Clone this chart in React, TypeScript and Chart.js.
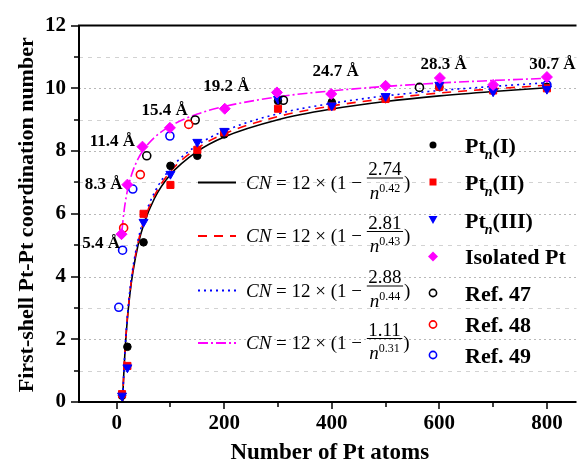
import React, { useEffect, useRef } from 'react';
import { Chart, registerables } from 'chart.js';
Chart.register(...registerables);

const SERIF = "'Liberation Serif', 'Times New Roman', serif";

// ---- fitted curves (values of the fits shown in the legend) ----
const fitN = [11, 12, 13, 14, 16, 18, 20, 25, 30, 40, 50, 70, 100, 150, 200, 300, 400, 500, 600, 700, 800];
const fit1 = [0, 0.42, 0.8, 1.15, 1.74, 2.23, 2.66, 3.49, 4.12, 5.02, 5.64, 6.48, 7.25, 7.99, 8.45, 9.0, 9.34, 9.58, 9.76, 9.9, 10.02];
const fit2 = [0, 0.42, 0.81, 1.16, 1.76, 2.27, 2.7, 3.55, 4.19, 5.1, 5.73, 6.57, 7.35, 8.09, 8.55, 9.1, 9.44, 9.67, 9.85, 9.98, 10.1];
const fit3 = [0, 0.42, 0.82, 1.18, 1.8, 2.31, 2.75, 3.62, 4.26, 5.18, 5.82, 6.67, 7.44, 8.19, 8.64, 9.19, 9.52, 9.76, 9.93, 10.06, 10.18];
const fitIsoN = [10, 12, 14, 16, 20, 25, 30, 40, 50, 70, 100, 150, 200, 300, 400, 500, 600, 700, 800];
const fitIso = [5.48, 5.83, 6.12, 6.36, 6.74, 7.09, 7.36, 7.76, 8.04, 8.43, 8.8, 9.18, 9.42, 9.73, 9.92, 10.06, 10.17, 10.25, 10.32];
const fitCoef = ['2.74', '2.81', '2.88', '1.11'];
const fitExp = ['0.42', '0.43', '0.44', '0.31'];

// ---- measured points ----
const ptN = [10, 20, 50, 100, 150, 200, 300, 400, 500, 600, 700, 800];
const ptI = [0.2, 1.76, 5.09, 7.53, 7.85, 8.53, 9.6, 9.56, 9.66, 10.04, 9.95, 10.05];
const ptII = [0.25, 1.15, 6.0, 6.92, 8.04, 8.6, 9.35, 9.42, 9.66, 10.05, 9.93, 10.0];
const ptIII = [0.2, 1.1, 5.74, 7.27, 8.29, 8.64, 9.66, 9.45, 9.75, 10.11, 9.9, 9.98];
const isoN = [9, 20, 48, 99, 201, 298, 399, 500, 601, 700, 800];
const isoCN = [5.35, 6.93, 8.14, 8.74, 9.35, 9.87, 9.82, 10.08, 10.33, 10.11, 10.36];
const ref47N = [56, 146, 310, 563];
const ref47CN = [7.85, 8.99, 9.62, 10.03];
const ref48N = [13, 44, 134];
const ref48CN = [5.55, 7.25, 8.85];
const ref49N = [4, 11, 30, 99, 800];
const ref49CN = [3.02, 4.84, 6.79, 8.48, 10.11];

// ---- size annotations ----
const sizeLabels = ['5.4 Å', '8.3 Å', '11.4 Å', '15.4 Å', '19.2 Å', '24.7 Å', '28.3 Å', '30.7 Å'];
const sizeLabelN = [-29, -24, -8, 89, 204, 407, 608, 810];
const sizeLabelCN = [5.04, 6.92, 8.29, 9.3, 10.06, 10.54, 10.75, 10.77];

// ---- axes ----
const xTicks = [0, 100, 200, 300, 400, 500, 600, 700, 800];
const yTicks = [0, 1, 2, 3, 4, 5, 6, 7, 8, 9, 10, 11, 12];
const xTitle = 'Number of Pt atoms';
const yTitle = 'First-shell Pt-Pt coordination number';

const pts = (xs: number[], ys: number[]) => xs.map((x, i) => ({ x, y: ys[i] }));

function drawMarker(ctx: CanvasRenderingContext2D, kind: string, color: string, x: number, y: number) {
  ctx.save();
  ctx.fillStyle = color;
  ctx.strokeStyle = color;
  ctx.setLineDash([]);
  ctx.beginPath();
  if (kind === 'circle') {
    ctx.arc(x, y, 3.5, 0, Math.PI * 2);
    ctx.fill();
  } else if (kind === 'square') {
    ctx.fillRect(x - 3.5, y - 3.5, 7, 7);
  } else if (kind === 'tri') {
    ctx.moveTo(x - 4.5, y - 4);
    ctx.lineTo(x + 4.5, y - 4);
    ctx.lineTo(x, y + 4);
    ctx.closePath();
    ctx.fill();
  } else if (kind === 'diamond') {
    ctx.moveTo(x, y - 5);
    ctx.lineTo(x + 5, y);
    ctx.lineTo(x, y + 5);
    ctx.lineTo(x - 5, y);
    ctx.closePath();
    ctx.fill();
  } else {
    ctx.lineWidth = 1.6;
    ctx.arc(x, y, 3.6, 0, Math.PI * 2);
    ctx.stroke();
  }
  ctx.restore();
}

function drawFormula(ctx: CanvasRenderingContext2D, x0: number, yc: number, coef: string, exp: string) {
  let x = x0;
  const base = yc + 6;
  ctx.textAlign = 'left';
  ctx.textBaseline = 'alphabetic';
  ctx.fillStyle = '#000';
  ctx.font = `italic 19px ${SERIF}`;
  ctx.fillText('CN', x, base);
  x += ctx.measureText('CN').width;
  ctx.font = `19px ${SERIF}`;
  const s = ' = 12 × (1 − ';
  ctx.fillText(s, x, base);
  x += ctx.measureText(s).width;
  const numW = ctx.measureText(coef).width;
  ctx.font = `italic 19px ${SERIF}`;
  const nW = ctx.measureText('n').width;
  ctx.font = `12px ${SERIF}`;
  const eW = ctx.measureText(exp).width;
  const denW = nW + eW;
  const w = Math.max(numW, denW) + 3;
  const barY = yc - 4.5;
  ctx.strokeStyle = '#000';
  ctx.lineWidth = 1;
  ctx.setLineDash([]);
  ctx.beginPath();
  ctx.moveTo(x, barY);
  ctx.lineTo(x + w, barY);
  ctx.stroke();
  ctx.font = `19px ${SERIF}`;
  ctx.fillText(coef, x + (w - numW) / 2, barY - 3);
  const dx = x + (w - denW) / 2;
  ctx.font = `italic 19px ${SERIF}`;
  ctx.fillText('n', dx, yc + 16);
  ctx.font = `12px ${SERIF}`;
  ctx.fillText(exp, dx + nW, yc + 9);
  x += w + 1;
  ctx.font = `19px ${SERIF}`;
  ctx.fillText(')', x, base);
}

const decor = {
  id: 'decor',
  beforeDatasetsDraw(chart: any) {
    const { ctx, chartArea: ca, scales } = chart;
    const ys = scales.y;
    ctx.save();
    ctx.lineWidth = 1;
    yTicks.forEach((v) => {
      if (v === 0 || v === 12) return;
      const py = Math.round(ys.getPixelForValue(v)) + 0.5;
      ctx.strokeStyle = v % 2 === 0 ? '#b8b8b8' : '#d2d2d2';
      ctx.setLineDash(v % 2 === 0 ? [2, 3] : [4, 5]);
      ctx.beginPath();
      ctx.moveTo(ca.left, py);
      ctx.lineTo(ca.right, py);
      ctx.stroke();
    });
    ctx.restore();
  },
  afterDraw(chart: any) {
    const { ctx, chartArea: ca, scales } = chart;
    const xs = scales.x;
    const ys = scales.y;
    ctx.save();
    ctx.setLineDash([]);
    ctx.strokeStyle = '#000';
    ctx.lineWidth = 2;
    ctx.beginPath();
    ctx.moveTo(ca.left, ca.top);
    ctx.lineTo(ca.left, ca.bottom);
    ctx.moveTo(ca.left - 1, ca.bottom);
    ctx.lineTo(ca.right, ca.bottom);
    ctx.moveTo(ca.left - 1, ca.top);
    ctx.lineTo(ca.right, ca.top);
    ctx.stroke();
    ctx.lineWidth = 1.5;
    ctx.beginPath();
    xTicks.forEach((v) => {
      const px = Math.round(xs.getPixelForValue(v));
      const len = v % 200 === 0 ? 7 : 5;
      ctx.moveTo(px, ca.bottom);
      ctx.lineTo(px, ca.bottom + len);
    });
    yTicks.forEach((v) => {
      const py = Math.round(ys.getPixelForValue(v));
      const len = v % 2 === 0 ? 8 : 5;
      ctx.moveTo(ca.left, py);
      ctx.lineTo(ca.left - len, py);
    });
    ctx.stroke();

    // axis titles
    ctx.fillStyle = '#000';
    ctx.font = `bold 23px ${SERIF}`;
    ctx.textAlign = 'center';
    ctx.textBaseline = 'alphabetic';
    ctx.fillText(xTitle, (ca.left + ca.right) / 2 + 2, 459);
    ctx.save();
    ctx.translate(33, (ca.top + ca.bottom) / 2 + 1);
    ctx.rotate(-Math.PI / 2);
    ctx.font = `bold 22px ${SERIF}`;
    ctx.fillText(yTitle, 0, 0);
    ctx.restore();

    // size annotations
    ctx.font = `bold 17px ${SERIF}`;
    ctx.textAlign = 'center';
    ctx.textBaseline = 'middle';
    sizeLabels.forEach((t, i) => {
      ctx.fillText(t, xs.getPixelForValue(sizeLabelN[i]), ys.getPixelForValue(sizeLabelCN[i]));
    });

    // legend: fits
    const lineStyles = [
      { c: '#000000', d: [] as number[] },
      { c: '#ff0000', d: [9, 7] },
      { c: '#0000ff', d: [2, 4] },
      { c: '#ff00ff', d: [10, 3, 2, 3] },
    ];
    const fitRowY = [182.5, 236, 290.5, 343];
    fitRowY.forEach((yc, i) => {
      ctx.save();
      ctx.strokeStyle = lineStyles[i].c;
      ctx.setLineDash(lineStyles[i].d);
      ctx.lineWidth = 1.8;
      ctx.beginPath();
      ctx.moveTo(198, yc);
      ctx.lineTo(236, yc);
      ctx.stroke();
      ctx.restore();
      drawFormula(ctx, 246, yc, fitCoef[i], fitExp[i]);
    });

    // legend: markers
    const rows = [
      { k: 'circle', c: '#000000', t: 'Pt', r: '(I)', y: 145 },
      { k: 'square', c: '#ff0000', t: 'Pt', r: '(II)', y: 182 },
      { k: 'tri', c: '#0000ff', t: 'Pt', r: '(III)', y: 220 },
      { k: 'diamond', c: '#ff00ff', t: 'Isolated Pt', r: '', y: 256.5 },
      { k: 'open', c: '#000000', t: 'Ref. 47', r: '', y: 293 },
      { k: 'open', c: '#ff0000', t: 'Ref. 48', r: '', y: 324.5 },
      { k: 'open', c: '#0000ff', t: 'Ref. 49', r: '', y: 355 },
    ];
    rows.forEach((row) => {
      drawMarker(ctx, row.k, row.c, 433, row.y);
      ctx.fillStyle = '#000';
      ctx.textAlign = 'left';
      ctx.textBaseline = 'alphabetic';
      ctx.font = `bold 22px ${SERIF}`;
      const base = row.y + 7.5;
      ctx.fillText(row.t, 465, base);
      if (row.r) {
        let x = 465 + ctx.measureText(row.t).width;
        ctx.font = `italic bold 14px ${SERIF}`;
        ctx.fillText('n', x - 1, base + 6);
        x += ctx.measureText('n').width - 1;
        ctx.font = `bold 22px ${SERIF}`;
        ctx.fillText(row.r, x, base);
      }
    });
    ctx.restore();
  },
};

export default function App() {
  const ref = useRef<HTMLCanvasElement | null>(null);
  useEffect(() => {
    document.body.style.margin = '0';
    const canvas = ref.current;
    if (!canvas) return;
    const lineDs = (data: any[], color: string, dash: number[], order: number) => ({
      data,
      showLine: true,
      borderColor: color,
      borderWidth: 1.6,
      borderDash: dash,
      pointRadius: 0,
      cubicInterpolationMode: 'monotone' as const,
      order,
    });
    const ptDs = (data: any[], style: any, color: string, radius: number, order: number, extra: any = {}) => ({
      data,
      showLine: false,
      pointStyle: style,
      pointRadius: radius,
      backgroundColor: color,
      borderColor: color,
      borderWidth: 1,
      order,
      ...extra,
    });
    const chart = new Chart(canvas, {
      type: 'scatter',
      data: {
        datasets: [
          lineDs(pts(fitN, fit1), '#000000', [], 20),
          lineDs(pts(fitN, fit2), '#ff0000', [9, 7], 19),
          lineDs(pts(fitN, fit3), '#0000ff', [2, 4], 18),
          lineDs(pts(fitIsoN, fitIso), '#ff00ff', [10, 3, 2, 3], 17),
          ptDs(pts(ptN, ptI), 'circle', '#000000', 3.8, 6),
          ptDs(pts(ptN, ptII), 'rect', '#ff0000', 5, 5),
          ptDs(pts(ptN, ptIII), 'triangle', '#0000ff', 5.2, 4, { rotation: 180 }),
          ptDs(pts(ref47N, ref47CN), 'circle', 'rgba(0,0,0,0)', 4, 3, { borderColor: '#000000', borderWidth: 1.6 }),
          ptDs(pts(ref48N, ref48CN), 'circle', 'rgba(0,0,0,0)', 4, 2, { borderColor: '#ff0000', borderWidth: 1.6 }),
          ptDs(pts(ref49N, ref49CN), 'circle', 'rgba(0,0,0,0)', 4, 1, { borderColor: '#0000ff', borderWidth: 1.6 }),
          ptDs(pts(isoN, isoCN), 'rectRot', '#ff00ff', 5.5, 0),
        ],
      },
      options: {
        animation: false,
        responsive: false,
        devicePixelRatio: 1,
        layout: { padding: { top: 22, right: 0, left: 0, bottom: 0 } },
        plugins: { legend: { display: false }, tooltip: { enabled: false } },
        scales: {
          x: {
            type: 'linear',
            min: -70,
            max: 855,
            afterBuildTicks: (s: any) => {
              s.ticks = xTicks.map((v) => ({ value: v }));
            },
            afterFit: (s: any) => {
              s.height = 60;
            },
            grid: { display: false, drawTicks: false },
            border: { display: false },
            ticks: {
              autoSkip: false,
              maxRotation: 0,
              padding: 9,
              color: '#000',
              font: { family: SERIF, size: 21, weight: 'bold' },
              callback: (v: any) => (Number(v) % 200 === 0 ? String(v) : ''),
            },
          },
          y: {
            type: 'linear',
            min: 0,
            max: 12,
            afterBuildTicks: (s: any) => {
              s.ticks = yTicks.map((v) => ({ value: v }));
            },
            afterFit: (s: any) => {
              s.width = 79;
            },
            grid: { display: false, drawTicks: false },
            border: { display: false },
            ticks: {
              autoSkip: false,
              padding: 13,
              color: '#000',
              font: { family: SERIF, size: 21, weight: 'bold' },
              callback: (v: any) => (Number(v) % 2 === 0 ? String(v) : ''),
            },
          },
        },
      },
      plugins: [decor],
    } as any);
    return () => chart.destroy();
  }, []);
  return (
    <div style={{ width: 583, height: 462, position: 'relative', background: '#fff' }}>
      <canvas ref={ref} width={583} height={462} style={{ display: 'block' }} />
    </div>
  );
}
